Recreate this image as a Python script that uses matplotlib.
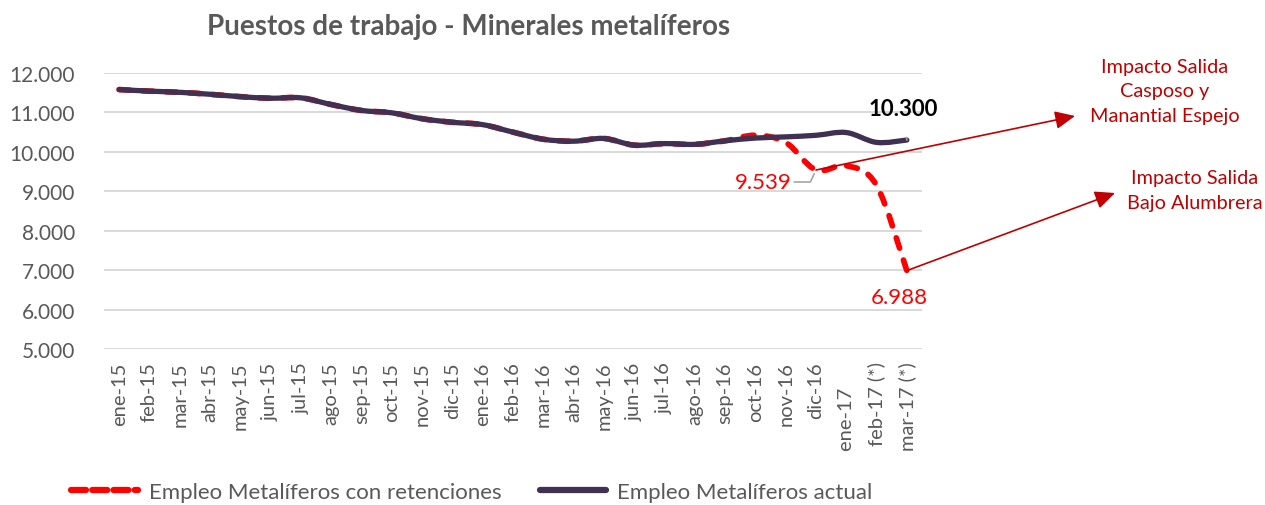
import numpy as np
import matplotlib
matplotlib.use("Agg")
import matplotlib.pyplot as plt
from matplotlib.path import Path
from matplotlib.patches import PathPatch
from matplotlib.lines import Line2D

plt.rcParams['font.family'] = ['Lato', 'DejaVu Sans']

# datos
meses = ['ene-15', 'feb-15', 'mar-15', 'abr-15', 'may-15', 'jun-15', 'jul-15',
         'ago-15', 'sep-15', 'oct-15', 'nov-15', 'dic-15', 'ene-16', 'feb-16',
         'mar-16', 'abr-16', 'may-16', 'jun-16', 'jul-16', 'ago-16', 'sep-16',
         'oct-16', 'nov-16', 'dic-16', 'ene-17     ', 'feb-17 (*)', 'mar-17 (*)']
actual = [11580, 11540, 11510, 11460, 11400, 11360, 11370, 11200, 11050, 10990,
          10840, 10750, 10690, 10500, 10320, 10270, 10340, 10170, 10210, 10190,
          10280, 10350, 10380, 10420, 10490, 10240, 10300]
retenciones = [11580, 11540, 11510, 11460, 11400, 11360, 11370, 11200, 11050, 10990,
               10840, 10750, 10690, 10500, 10320, 10270, 10340, 10170, 10210, 10190,
               10280, 10420, 10240, 9539, 9650, 9150, 6988]
serie_ret = 'Empleo Metalíferos con retenciones'
serie_act = 'Empleo Metalíferos actual'
titulo = 'Puestos de trabajo - Minerales metalíferos'
nota_1 = 'Impacto Salida\nCasposo y\nManantial Espejo'
nota_2 = 'Impacto Salida\nBajo Alumbrera'

ROJO = '#FF0000'
VIOLETA = '#403152'
GRIS = '#595959'
BORDO = '#C00000'
W, H = 1265, 506


def fx(px):
    return px / W


def fy(py):
    return 1 - py / H


def suavizada(y):
    # linea suavizada tipo Excel (bezier cubica por tramos)
    y = np.asarray(y, dtype=float)
    x = np.arange(len(y), dtype=float)
    xp = np.concatenate([[x[0]], x, [x[-1]]])
    yp = np.concatenate([[y[0]], y, [y[-1]]])
    verts = [(x[0], y[0])]
    codes = [Path.MOVETO]
    for i in range(len(y) - 1):
        c1 = (x[i] + (xp[i + 2] - xp[i]) / 6, y[i] + (yp[i + 2] - yp[i]) / 6)
        c2 = (x[i + 1] - (xp[i + 3] - xp[i + 1]) / 6, y[i + 1] - (yp[i + 3] - yp[i + 1]) / 6)
        verts += [c1, c2, (x[i + 1], y[i + 1])]
        codes += [Path.CURVE4] * 3
    return Path(verts, codes)


def fmt(v):
    return f'{v:,.0f}'.replace(',', '.')


fig = plt.figure(figsize=(W / 100, H / 100), dpi=100)
ax = fig.add_axes([fx(104), fy(350), fx(922 - 104), (350 - 74) / H])

guiones = (0, (1.9, 2.2))
p_ret = PathPatch(suavizada(retenciones), fill=False, edgecolor=ROJO, lw=4.1,
                  linestyle=guiones, capstyle='round', joinstyle='round', zorder=3)
ax.add_patch(p_ret)
p_act = PathPatch(suavizada(actual), fill=False, edgecolor=VIOLETA, lw=3.8,
                  capstyle='round', joinstyle='round', zorder=4)
ax.add_patch(p_act)

ax.set_xlim(-0.5, len(meses) - 0.5)
ax.set_ylim(5000, 12000)
ax.set_yticks(np.arange(5000, 12001, 1000))
ax.set_yticklabels([fmt(v) for v in np.arange(5000, 12001, 1000)])
ax.set_xticks(np.arange(len(meses)))
ax.set_xticklabels(meses, rotation=90)
ax.tick_params(axis='y', length=0, pad=21, labelsize=15, labelcolor=GRIS)
ax.tick_params(axis='x', length=0, pad=9, labelsize=14.5, labelcolor=GRIS)
ax.grid(axis='y', color='#D9D9D9', lw=1.4)
ax.set_axisbelow(True)
for s in ax.spines.values():
    s.set_visible(False)

fig.text(fx(469), fy(27), titulo, ha='center', va='center', fontsize=20,
         fontweight='bold', color=GRIS)

# etiquetas de datos
i_min = 23
ax.annotate(fmt(retenciones[i_min]), xy=(i_min, retenciones[i_min]),
            xytext=(fx(763), fy(183)), textcoords='figure fraction',
            ha='center', va='center', fontsize=16, color=ROJO,
            arrowprops=dict(arrowstyle='-', color='#A6A6A6', lw=1.2,
                            connectionstyle='angle,angleA=0,angleB=65,rad=0',
                            shrinkA=37, shrinkB=3), zorder=5)
n = len(meses) - 1
ax.annotate(fmt(retenciones[n]), xy=(n, retenciones[n]),
            xytext=(fx(899), fy(298)), textcoords='figure fraction',
            ha='center', va='center', fontsize=16, color=ROJO, zorder=5)
ax.annotate(fmt(actual[n]), xy=(n, actual[n]),
            xytext=(fx(903), fy(110)), textcoords='figure fraction',
            ha='center', va='center', fontsize=16, fontweight='bold', color='black',
            arrowprops=dict(arrowstyle='-', color='#A6A6A6', lw=1.2,
                            shrinkA=11, shrinkB=2), zorder=5)

# flechas de impacto
flecha = dict(arrowstyle='-|>,head_length=0.55,head_width=0.25', color=BORDO,
              lw=1.2, mutation_scale=22, shrinkA=0, shrinkB=0)
ax.annotate('', xy=(fx(1075), fy(117)), xycoords='figure fraction',
            xytext=(i_min, retenciones[i_min]), textcoords='data',
            arrowprops=flecha, annotation_clip=False)
ax.annotate('', xy=(fx(1115), fy(194)), xycoords='figure fraction',
            xytext=(n, retenciones[n]), textcoords='data',
            arrowprops=flecha, annotation_clip=False)
fig.text(fx(1165), fy(92), nota_1, ha='center', va='center', fontsize=14.3,
         color=BORDO, linespacing=1.55)
fig.text(fx(1195), fy(191), nota_2, ha='center', va='center', fontsize=14.3,
         color=BORDO, linespacing=1.55)

handles = [Line2D([], [], color=ROJO, lw=4.5, linestyle=(0, (2.4, 1.0)),
                  dash_capstyle='round'),
           Line2D([], [], color=VIOLETA, lw=4.5, solid_capstyle='round')]
fig.legend(handles, [serie_ret, serie_act], loc='center', ncol=2,
           bbox_to_anchor=(fx(472), fy(493)), frameon=False, fontsize=16,
           labelcolor=GRIS, handlelength=3.0, handletextpad=0.5,
           columnspacing=1.7)

fig.savefig('out.png', dpi=100)
